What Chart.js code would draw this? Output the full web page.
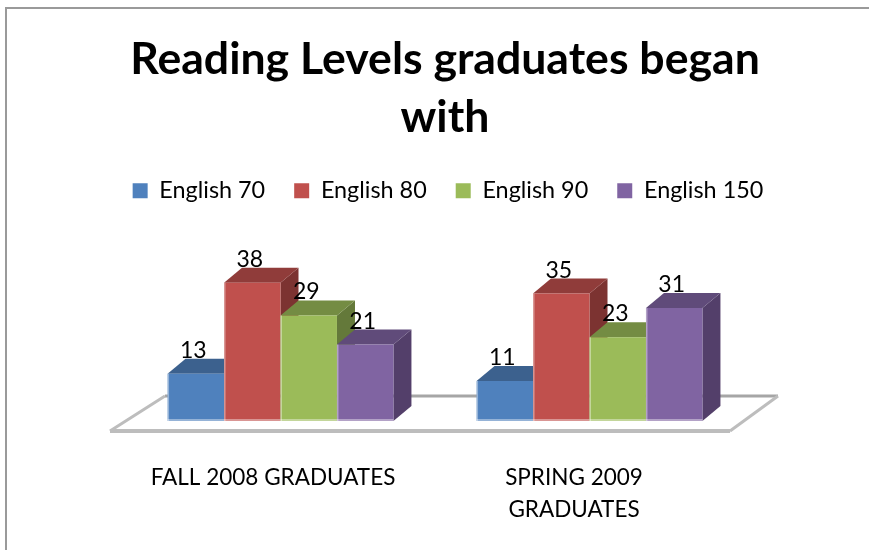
<!DOCTYPE html>
<html>
<head>
<meta charset="utf-8">
<title>Reading Levels graduates began with</title>
<script src="https://cdn.jsdelivr.net/npm/chart.js@4/dist/chart.umd.min.js"></script>
<style>
  html, body { margin: 0; padding: 0; background: #fff; }
  #box { width: 869px; height: 550px; }
</style>
</head>
<body>
<div id="box"><canvas id="readingChart"></canvas></div>
<script>
var titleLines = ["Reading Levels graduates began", "with"];
var categories = ["FALL 2008 GRADUATES", ["SPRING 2009", "GRADUATES"]];
var seriesNames = ["English 70", "English 80", "English 90", "English 150"];
var english70 = [13, 11];
var english80 = [38, 35];
var english90 = [29, 23];
var english150 = [21, 31];

var frontColors = ["#4f81bd", "#c0504d", "#9bbb59", "#8064a2"];
var topColors = ["#3c618e", "#903c3a", "#748c43", "#604b7a"];
var sideColors = ["#33527a", "#7c3331", "#64793a", "#533f6a"];
var labelShift = [-7.5, -15.5];   // tick labels sit left of the groups
var legendShift = 3;
var depthX = 18, depthY = 15;
var fontName = "Lato, 'Open Sans', sans-serif";

// frame lines and the floor the bars stand on
var floorPlugin = {
    id: "floor",
    beforeDraw: function (chart) {
        var c = chart.ctx;
        c.save();
        c.fillStyle = "#fff";
        c.fillRect(0, 0, chart.width, chart.height);
        c.strokeStyle = "#9a9a9a";
        c.lineWidth = 2;
        c.beginPath();
        c.moveTo(6, chart.height);
        c.lineTo(6, 8);
        c.lineTo(chart.width, 8);
        c.stroke();
        c.restore();
    },
    beforeDatasetsDraw: function (chart) {
        var c = chart.ctx, a = chart.chartArea;
        var frontL = a.left - 16, frontR = a.right - 14, frontY = a.bottom + 10;
        c.save();
        c.lineWidth = 3;
        c.strokeStyle = "#a6a6a6";
        c.beginPath();
        c.moveTo(frontL + 55, frontY - 35);
        c.lineTo(frontR + 48, frontY - 35);
        c.stroke();
        c.strokeStyle = "#bdbdbd";
        c.beginPath();
        c.moveTo(frontL, frontY);
        c.lineTo(frontL + 55, frontY - 35);
        c.moveTo(frontR, frontY);
        c.lineTo(frontR + 48, frontY - 35);
        c.stroke();
        c.lineWidth = 4;
        c.beginPath();
        c.moveTo(frontL, frontY);
        c.lineTo(frontR, frontY);
        c.stroke();
        c.restore();
    }
};

// bars go left to right so each front hides the depth faces of the one before
var depthPlugin = {
    id: "depth",
    beforeDatasetsDraw: function (chart) {
        var c = chart.ctx;
        chart.data.datasets.forEach(function (ds, i) {
            var meta = chart.getDatasetMeta(i);
            meta.data.forEach(function (bar) {
                var l = bar.x - bar.width / 2, r = bar.x + bar.width / 2;
                c.fillStyle = sideColors[i];
                c.beginPath();
                c.moveTo(r, bar.y);
                c.lineTo(r + depthX, bar.y - depthY);
                c.lineTo(r + depthX, bar.base - depthY);
                c.lineTo(r, bar.base);
                c.closePath();
                c.fill();
                c.fillStyle = topColors[i];
                c.beginPath();
                c.moveTo(l, bar.y);
                c.lineTo(l + depthX, bar.y - depthY);
                c.lineTo(r + depthX, bar.y - depthY);
                c.lineTo(r, bar.y);
                c.closePath();
                c.fill();
            });
            meta.controller.draw();
            meta.data.forEach(function (bar) {
                var l = bar.x - bar.width / 2;
                c.fillStyle = "rgba(255,255,255,0.4)";
                c.fillRect(l, bar.y, 1.5, bar.base - bar.y);
                c.fillRect(l, bar.base - 2, bar.width, 2);
            });
        });
    },
    beforeDatasetDraw: function () {
        return false;
    },
    afterDatasetsDraw: function (chart) {
        var c = chart.ctx;
        c.save();
        c.font = "23px " + fontName;
        c.fillStyle = "#000";
        c.textAlign = "center";
        c.textBaseline = "alphabetic";
        chart.data.datasets.forEach(function (ds, i) {
            chart.getDatasetMeta(i).data.forEach(function (bar, j) {
                c.fillText(ds.data[j], bar.x - 2.5, bar.y - 16);
            });
        });
        c.restore();
    },
    afterUpdate: function (chart) {
        chart.scales.x.getLabelItems().forEach(function (item, i) {
            item.options.translation[0] += labelShift[i];
        });
        chart.legend.left += legendShift;
        chart.legend.right += legendShift;
    }
};

var seriesValues = [english70, english80, english90, english150];
var datasets = seriesNames.map(function (name, i) {
    return {
        label: name,
        data: seriesValues[i],
        backgroundColor: frontColors[i],
        categoryPercentage: 0.731,
        barPercentage: 1
    };
});

new Chart(document.getElementById("readingChart"), {
    type: "bar",
    data: { labels: categories, datasets: datasets },
    plugins: [floorPlugin, depthPlugin],
    options: {
        responsive: true,
        maintainAspectRatio: false,
        animation: false,
        layout: { padding: { left: 21, top: 31, right: 0, bottom: 0 } },
        plugins: {
            tooltip: { enabled: false },
            title: {
                display: true,
                text: titleLines,
                color: "#000",
                font: { family: fontName, size: 44.6, weight: "bold", lineHeight: 1.3 },
                padding: { top: 0, bottom: 3 }
            },
            legend: {
                position: "top",
                onClick: null,
                labels: {
                    color: "#000",
                    font: { family: fontName, size: 23.4 },
                    boxWidth: 15,
                    boxHeight: 15,
                    padding: 29
                }
            }
        },
        scales: {
            x: {
                grid: { display: false },
                border: { display: false },
                ticks: {
                    color: "#000",
                    font: { family: fontName, size: 22.5, lineHeight: 1.42 },
                    padding: 33,
                    maxRotation: 0,
                    autoSkip: false
                },
                afterFit: function (s) { s.height = 129; }
            },
            y: {
                display: false,
                min: 0,
                max: 57.3,
                afterFit: function (s) { s.width = 105; }
            },
            yRight: {
                display: false,
                position: "right",
                afterFit: function (s) { s.width = 125; }
            }
        }
    }
});
</script>
</body>
</html>
